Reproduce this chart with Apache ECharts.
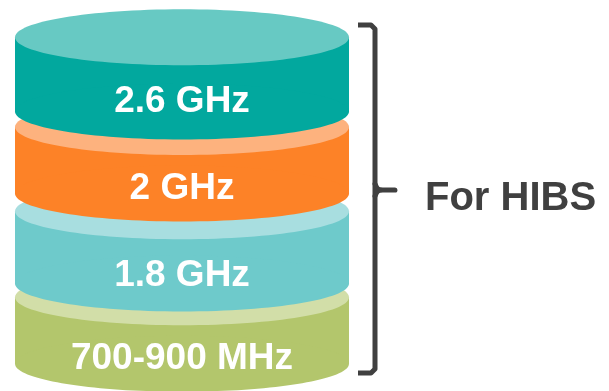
<!DOCTYPE html>
<html>
<head>
<meta charset="utf-8">
<script src="https://cdn.jsdelivr.net/npm/echarts@6/dist/echarts.min.js"></script>
<style>
  html, body { margin: 0; padding: 0; background: #ffffff; }
  #chart { width: 609px; height: 391px; }
</style>
</head>
<body>
<div id="chart"></div>
<script>
// Frequency bands, stacked from the bottom layer up
const bands = ['700-900 MHz', '1.8 GHz', '2 GHz', '2.6 GHz'];
// Lower and upper level of each band on the stack axis (0-100)
const bandLow = [7, 27.5, 50.5, 71.5];
const bandHigh = [24, 46, 67.5, 90.5];
// Side colour and top-face colour of each cylinder
const sideColors = ['#b3c66c', '#6ecacb', '#fd8227', '#02a89e'];
const faceColors = ['#d2dea8', '#a8dee0', '#fdb27e', '#67c9c3'];
const groupLabel = 'For HIBS';

const chart = echarts.init(document.getElementById('chart'), null, { renderer: 'canvas' });

const RY = 28; // vertical radius of the elliptical faces
const FONT = '"Liberation Sans", Arial, sans-serif';

function renderCylinder(params, api) {
  const i = params.dataIndex;
  const low = api.value(0);
  const high = api.value(1);
  const pl = api.coord([0, low]);
  const pr = api.coord([1, low]);
  const pt = api.coord([0, high]);
  const cx = (pl[0] + pr[0]) / 2;
  const rx = (pr[0] - pl[0]) / 2;
  const yBot = pl[1];
  const yTop = pt[1];
  return {
    type: 'group',
    z2: i * 10,
    children: [
      { type: 'rect', z2: i * 10,
        shape: { x: pl[0], y: yTop, width: pr[0] - pl[0], height: yBot - yTop },
        style: { fill: sideColors[i] } },
      { type: 'ellipse', z2: i * 10,
        shape: { cx: cx, cy: yBot, rx: rx, ry: RY },
        style: { fill: sideColors[i] } },
      { type: 'ellipse', z2: i * 10 + 1,
        shape: { cx: cx, cy: yTop, rx: rx, ry: RY },
        style: { fill: faceColors[i] } },
      { type: 'text', z2: i * 10 + 2,
        x: cx, y: (yTop + yBot) / 2 + RY,
        style: {
          text: bands[i], fill: '#ffffff',
          font: 'bold 37px ' + FONT,
          align: 'center', verticalAlign: 'middle'
        } }
    ]
  };
}

chart.setOption({
  backgroundColor: '#ffffff',
  animation: false,
  grid: { left: 15, width: 334, top: 0, bottom: 0 },
  xAxis: { type: 'value', min: 0, max: 1, show: false },
  yAxis: { type: 'value', min: 0, max: 100, show: false },
  series: [{
    type: 'custom',
    clip: false,
    renderItem: renderCylinder,
    encode: { x: -1, y: [0, 1] },
    data: bands.map((b, i) => ({ name: b, value: [bandLow[i], bandHigh[i]] }))
  }],
  graphic: [
    {
      type: 'polyline',
      shape: { points: [[358, 25], [371, 25], [375, 29], [375, 369], [371, 373], [358, 373]] },
      style: { stroke: '#404040', lineWidth: 5, fill: null, lineJoin: 'round', lineCap: 'butt' }
    },
    {
      type: 'polyline',
      shape: { points: [[375, 184], [378, 189], [383, 190], [395, 190], [383, 190], [378, 191], [375, 196]], smooth: 0.3 },
      style: { stroke: '#404040', lineWidth: 5, fill: null, lineJoin: 'round', lineCap: 'round' }
    },
    {
      type: 'text',
      x: 425, y: 199,
      style: {
        text: groupLabel, fill: '#404040',
        font: 'bold 40px ' + FONT,
        align: 'left', verticalAlign: 'middle'
      }
    }
  ]
});
</script>
</body>
</html>
